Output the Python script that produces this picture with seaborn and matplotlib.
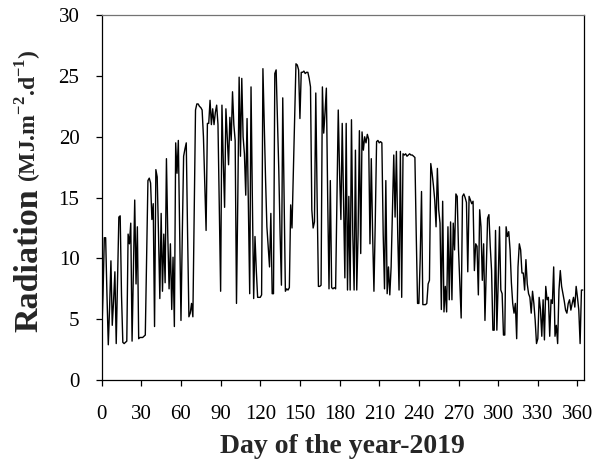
import numpy as np
import pandas as pd
import seaborn as sns
import matplotlib.pyplot as plt

# daily radiation (MJ m-2 d-1)
jan = [3.5, 7.0, 11.7, 11.7, 7.0, 2.9, 6.0, 9.8, 4.5, 6.5, 8.9, 3.0, 8.0, 13.4, 13.5, 7.0,
       3.1, 3.0, 3.1, 3.2, 12.0, 11.2, 12.9, 3.2, 9.0, 14.8, 7.9, 12.6, 3.4, 3.5, 3.5]
feb = [3.5, 3.6, 3.7, 10.0, 16.4, 16.6, 16.2, 13.2, 14.5, 4.4, 17.3, 16.7, 12.0, 6.7,
       13.7, 7.3, 12.0, 8.0, 18.2, 12.0, 7.5, 11.2, 5.8, 10.1, 4.4, 19.5, 17.0, 19.7]
mar = [12.0, 4.9, 12.0, 18.4, 19.0, 19.5, 12.0, 5.2, 5.5, 6.3, 5.2, 14.0, 22.2, 22.7, 22.7,
       22.5, 22.4, 22.2, 20.0, 16.0, 12.3, 21.1, 21.1, 23.0, 21.0, 22.3, 21.0, 22.0, 22.6, 21.0, 14.0]
apr = [7.3, 22.6, 18.0, 14.2, 22.3, 20.0, 17.7, 21.6, 19.7, 23.7, 21.0, 19.7, 6.3, 15.0, 24.9,
       18.4, 24.8, 20.0, 18.6, 15.2, 21.5, 14.0, 7.1, 24.1, 15.0, 6.7, 11.8, 9.0, 6.8, 6.8]
may = [6.8, 7.0, 25.6, 21.0, 16.5, 12.6, 11.0, 9.3, 13.7, 7.1, 7.1, 25.2, 25.5, 21.5, 17.3,
       12.0, 7.8, 23.2, 15.0, 7.3, 7.5, 7.4, 7.6, 14.4, 12.5, 17.0, 21.5, 26.0, 25.9, 25.5, 21.5]
jun = [25.3, 25.3, 25.4, 25.2, 25.3, 25.3, 24.8, 24.1, 14.0, 12.5, 13.0, 23.6, 15.0, 7.7, 7.7,
       7.8, 24.1, 20.3, 22.0, 24.0, 15.0, 7.5, 16.4, 7.6, 7.5, 7.6, 7.5, 15.0, 22.2, 17.0]
jul = [13.2, 21.1, 15.0, 8.4, 21.1, 7.4, 15.1, 7.4, 21.4, 12.0, 7.4, 18.9, 7.4, 12.0, 20.5,
       10.4, 20.4, 18.9, 20.0, 19.5, 20.2, 19.8, 11.2, 18.2, 12.0, 7.3, 13.0, 19.6, 19.7, 19.5, 19.6]
aug = [19.5, 12.0, 7.5, 16.4, 7.1, 9.3, 7.0, 9.3, 14.0, 18.5, 13.4, 18.8, 12.0, 7.4, 18.8,
       6.8, 18.6, 18.5, 18.6, 18.4, 18.5, 18.6, 18.5, 18.5, 18.4, 18.3, 12.0, 6.3, 6.3, 10.0, 15.5]
sep = [6.2, 6.2, 6.2, 6.3, 7.9, 8.2, 17.8, 17.0, 16.0, 14.8, 12.6, 17.4, 14.0, 12.9, 5.8,
       14.7, 5.6, 7.7, 5.6, 12.6, 6.6, 13.0, 6.6, 12.9, 10.7, 15.3, 15.1, 10.7, 8.0, 5.1]
oct_ = [15.1, 15.3, 15.0, 14.6, 8.9, 15.1, 14.8, 14.5, 14.7, 9.0, 11.2, 11.0, 7.0, 14.0, 12.6,
        8.2, 11.2, 4.9, 9.0, 13.3, 13.6, 11.0, 9.0, 4.1, 4.1, 12.3, 4.1, 8.0, 12.6, 7.4, 7.1]
nov = [3.7, 3.7, 12.6, 11.8, 12.2, 10.7, 8.0, 6.3, 5.5, 6.3, 3.4, 9.3, 11.2, 10.7, 8.8,
       8.8, 7.4, 9.9, 7.9, 7.1, 6.8, 5.5, 7.3, 6.3, 4.9, 3.0, 3.4, 6.8, 5.8, 3.6]
dec = [6.6, 3.3, 7.7, 6.6, 6.8, 3.6, 6.6, 6.3, 9.3, 3.6, 4.5, 3.0, 7.4, 9.0, 7.7, 7.1,
       6.5, 5.75, 5.5, 6.3, 6.6, 5.75, 6.3, 6.8, 6.0, 7.7, 6.8, 5.75, 3.0, 7.4, 7.4]

rad = jan + feb + mar + apr + may + jun + jul + aug + sep + oct_ + nov + dec
df = pd.DataFrame({"day": np.arange(len(rad)), "rad": rad})

sns.set_style("ticks")
plt.rcParams["font.family"] = ["Liberation Serif", "DejaVu Serif"]
plt.rcParams["mathtext.fontset"] = "custom"
plt.rcParams["mathtext.rm"] = "Liberation Serif"
plt.rcParams["mathtext.bf"] = "Liberation Serif:bold"

fig = plt.figure(figsize=(5.96, 4.59), dpi=100)
ax = fig.add_axes([0.1706, 0.172, 0.8094, 0.795])

sns.lineplot(data=df, x="day", y="rad", color="black", lw=1.0, ax=ax)

ax.set_xlim(0, 365)
ax.set_ylim(0, 30)
ax.set_xticks(range(0, 361, 30))
ax.set_yticks(range(0, 31, 5))
ax.tick_params(direction="out", length=4, width=0.9, labelsize=15, colors="black")
ax.tick_params(axis="x", pad=14)
ax.tick_params(axis="y", pad=12)
for s in ax.spines.values():
    s.set_color("black")
    s.set_linewidth(0.9)
ax.spines["top"].set_color("0.45")

ax.set_xlabel("Day of the year-2019", fontsize=20, fontweight="bold", labelpad=7)
ax.set_ylabel("")

# y label in two sizes on one baseline: second part starts where the first ends
H = fig.bbox.height
t1 = fig.text(0.062, 0.277, "Radiation", rotation=90, rotation_mode="anchor",
              ha="left", va="baseline", fontsize=24.5, fontweight="bold")
fig.canvas.draw()
bb = t1.get_window_extent()
fig.text(0.062, (bb.y1 + 6) / H, r"(MJ.m$^{\mathbf{-2}}$.d$^{\mathbf{-1}}$)", rotation=90,
         rotation_mode="anchor", ha="left", va="baseline", fontsize=17, fontweight="bold")

fig.savefig("out.png", dpi=100)
